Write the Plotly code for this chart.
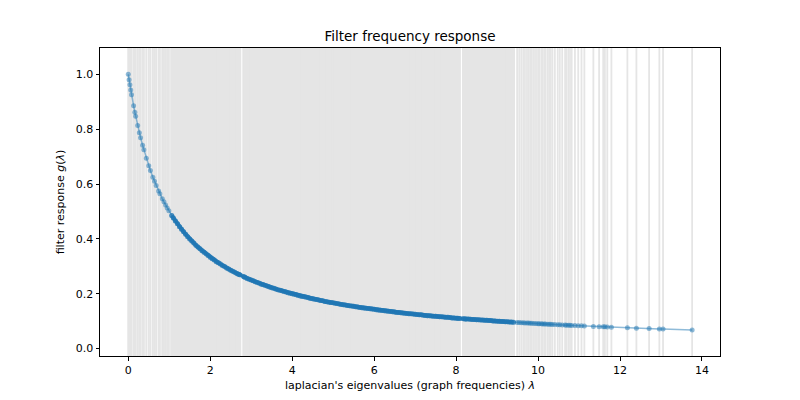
import plotly.graph_objects as go

# Laplacian eigenvalues (graph frequencies), in three bands
eig_low = [
    0.00, 0.02, 0.04, 0.06, 0.08, 0.13, 0.16, 0.18, 0.23, 0.27, 0.30, 0.35, 0.38,
    0.44, 0.50, 0.54, 0.60, 0.64, 0.68, 0.74, 0.77, 0.83, 0.87, 0.91, 0.95, 0.99,
]
eig_bulk = [
    1.06, 1.10, 1.15, 1.20, 1.25, 1.30, 1.35, 1.40, 1.45, 1.50, 1.55, 1.60, 1.65,
    1.70, 1.75, 1.80, 1.85, 1.90, 1.95, 2.00, 2.05, 2.10, 2.15, 2.20, 2.25, 2.30,
    2.35, 2.40, 2.45, 2.50, 2.55, 2.60, 2.65, 2.69, 2.72, 2.82, 2.85, 2.90, 2.95,
    3.00, 3.05, 3.10, 3.15, 3.20, 3.25, 3.30, 3.35, 3.40, 3.45, 3.50, 3.55, 3.60,
    3.65, 3.70, 3.75, 3.80, 3.85, 3.90, 3.95, 4.00, 4.05, 4.10, 4.15, 4.20, 4.25,
    4.30, 4.35, 4.40, 4.45, 4.50, 4.55, 4.60, 4.65, 4.70, 4.75, 4.80, 4.85, 4.90,
    4.95, 5.00, 5.05, 5.10, 5.15, 5.20, 5.25, 5.30, 5.35, 5.40, 5.45, 5.50, 5.55,
    5.60, 5.65, 5.70, 5.75, 5.80, 5.85, 5.90, 5.95, 6.00, 6.05, 6.10, 6.15, 6.20,
    6.25, 6.30, 6.35, 6.40, 6.45, 6.50, 6.55, 6.60, 6.65, 6.70, 6.75, 6.80, 6.85,
    6.90, 6.95, 7.00, 7.05, 7.10, 7.15, 7.20, 7.25, 7.30, 7.35, 7.40, 7.45, 7.50,
    7.55, 7.60, 7.65, 7.70, 7.75, 7.80, 7.85, 7.90, 7.95, 8.00, 8.04, 8.08, 8.18,
    8.22, 8.25, 8.30, 8.35, 8.40, 8.45, 8.50, 8.55, 8.60, 8.65, 8.70, 8.75, 8.80,
    8.85, 8.90, 8.95, 9.00, 9.05, 9.10, 9.15, 9.20, 9.25, 9.30, 9.35, 9.40,
]
eig_high = [
    9.49, 9.54, 9.59, 9.64, 9.68, 9.73, 9.77, 9.81, 9.85, 9.90, 9.95, 10.00,
    10.03, 10.08, 10.11, 10.15, 10.18, 10.23, 10.27, 10.31, 10.35, 10.41, 10.48,
    10.53, 10.59, 10.66, 10.69, 10.74, 10.78, 10.82, 10.90, 10.98, 11.06, 11.13,
    11.35, 11.49, 11.59, 11.63, 11.69, 11.79, 12.18, 12.40, 12.71, 12.96, 13.05,
    13.76,
]

# Filter response g(lambda), same bands
resp_low = [
    1.000, 0.980, 0.962, 0.943, 0.926, 0.885, 0.862, 0.847, 0.813, 0.787, 0.769, 0.741, 0.725,
    0.694, 0.667, 0.649, 0.625, 0.610, 0.595, 0.575, 0.565, 0.546, 0.535, 0.524, 0.513, 0.503,
]
resp_bulk = [
    0.485, 0.476, 0.465, 0.455, 0.444, 0.435, 0.426, 0.417, 0.408, 0.400, 0.392, 0.385, 0.377,
    0.370, 0.364, 0.357, 0.351, 0.345, 0.339, 0.333, 0.328, 0.323, 0.317, 0.313, 0.308, 0.303,
    0.299, 0.294, 0.290, 0.286, 0.282, 0.278, 0.274, 0.271, 0.269, 0.262, 0.260, 0.256, 0.253,
    0.250, 0.247, 0.244, 0.241, 0.238, 0.235, 0.233, 0.230, 0.227, 0.225, 0.222, 0.220, 0.217,
    0.215, 0.213, 0.211, 0.208, 0.206, 0.204, 0.202, 0.200, 0.198, 0.196, 0.194, 0.192, 0.190,
    0.189, 0.187, 0.185, 0.183, 0.182, 0.180, 0.179, 0.177, 0.175, 0.174, 0.172, 0.171, 0.169,
    0.168, 0.167, 0.165, 0.164, 0.163, 0.161, 0.160, 0.159, 0.157, 0.156, 0.155, 0.154, 0.153,
    0.152, 0.150, 0.149, 0.148, 0.147, 0.146, 0.145, 0.144, 0.143, 0.142, 0.141, 0.140, 0.139,
    0.138, 0.137, 0.136, 0.135, 0.134, 0.133, 0.132, 0.132, 0.131, 0.130, 0.129, 0.128, 0.127,
    0.127, 0.126, 0.125, 0.124, 0.123, 0.123, 0.122, 0.121, 0.120, 0.120, 0.119, 0.118, 0.118,
    0.117, 0.116, 0.116, 0.115, 0.114, 0.114, 0.113, 0.112, 0.112, 0.111, 0.111, 0.110, 0.109,
    0.108, 0.108, 0.108, 0.107, 0.106, 0.106, 0.105, 0.105, 0.104, 0.104, 0.103, 0.103, 0.102,
    0.102, 0.101, 0.101, 0.100, 0.0995, 0.0990, 0.0985, 0.0980, 0.0976, 0.0971, 0.0966, 0.0962,
]
resp_high = [
    0.0953, 0.0949, 0.0944, 0.0940, 0.0936, 0.0932, 0.0929, 0.0925, 0.0922, 0.0917, 0.0913, 0.0909,
    0.0907, 0.0903, 0.0900, 0.0897, 0.0894, 0.0890, 0.0887, 0.0884, 0.0881, 0.0876, 0.0871,
    0.0867, 0.0863, 0.0858, 0.0855, 0.0852, 0.0849, 0.0846, 0.0840, 0.0835, 0.0829, 0.0824,
    0.0810, 0.0801, 0.0794, 0.0792, 0.0788, 0.0782, 0.0759, 0.0746, 0.0729, 0.0716, 0.0712,
    0.0678,
]

x_ticks = [0, 2, 4, 6, 8, 10, 12, 14]
y_ticks = [0.0, 0.2, 0.4, 0.6, 0.8, 1.0]

FONT = "DejaVu Sans"
GREY = "#e5e5e5"
BLUE_A = "rgba(31,119,180,0.5)"


def vlines(eigs):
    xs, ys = [], []
    for lam in eigs:
        xs += [lam, lam, None]
        ys += [-5, 5, None]
    return xs, ys


fig = go.Figure()
for eigs, w in ((eig_low, 2.0), (eig_bulk, 3.0), (eig_high, 1.8)):
    xs, ys = vlines(eigs)
    fig.add_trace(go.Scatter(
        x=xs, y=ys, mode="lines", line=dict(color=GREY, width=w),
        hoverinfo="skip", showlegend=False,
    ))

eigenvalues = eig_low + eig_bulk + eig_high
responses = resp_low + resp_bulk + resp_high

fig.add_trace(go.Scatter(
    x=eigenvalues, y=responses, mode="lines+markers",
    line=dict(color=BLUE_A, width=1.5),
    marker=dict(color=BLUE_A, size=5, line=dict(width=0)),
    showlegend=False,
))
# the bulk of the spectrum is so dense that the markers merge into a solid band
fig.add_trace(go.Scatter(
    x=eig_bulk, y=resp_bulk, mode="lines+markers",
    line=dict(color="rgba(31,119,180,0.8)", width=4),
    marker=dict(color="rgba(31,119,180,0.6)", size=5, line=dict(width=0)),
    showlegend=False, hoverinfo="skip",
))

fig.update_layout(
    width=800, height=400,
    margin=dict(l=100, r=80, t=48, b=44),
    paper_bgcolor="white", plot_bgcolor="white",
    font=dict(family=FONT, size=11, color="black"),
    title=dict(text="Filter frequency response", x=0.5, xref="paper",
               y=1 - 36 / 400, yref="container", yanchor="middle",
               font=dict(family=FONT, size=13.5, color="black")),
)
fig.update_xaxes(
    range=[-0.69, 14.44], tickvals=x_ticks, ticktext=[str(t) for t in x_ticks],
    showgrid=False, zeroline=False, showline=True, linecolor="black", linewidth=1,
    mirror=True, ticks="outside", ticklen=3.5, tickcolor="black", tickwidth=1,
    title=dict(text="laplacian's eigenvalues (graph frequencies) <i>λ</i>", standoff=5,
               font=dict(family=FONT, size=11)),
)
fig.update_yaxes(
    range=[-0.027, 1.096], tickvals=y_ticks, ticktext=[f"{t:.1f}" for t in y_ticks],
    showgrid=False, zeroline=False, showline=True, linecolor="black", linewidth=1,
    mirror=True, ticks="outside", ticklen=3.5, tickcolor="black", tickwidth=1,
    title=dict(text="filter response <i>g</i>(<i>λ</i>)", standoff=8,
               font=dict(family=FONT, size=11)),
)

fig.write_html("out.html")
